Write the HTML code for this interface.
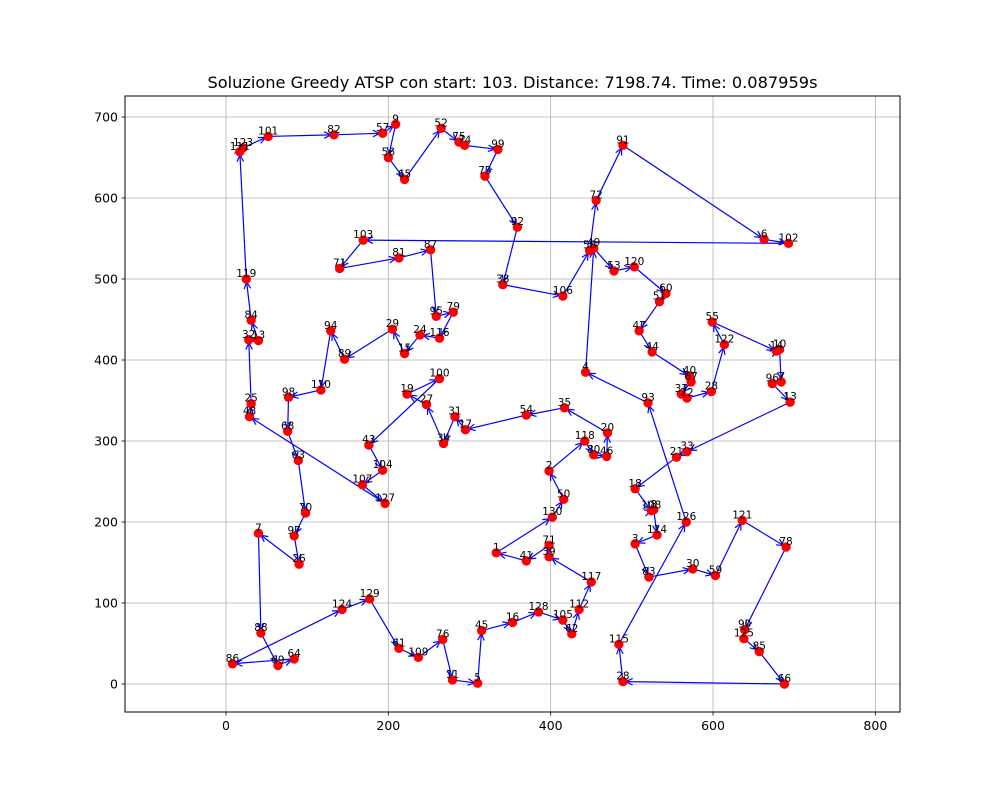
<!DOCTYPE html>
<html><head><meta charset="utf-8"><style>
html,body{margin:0;padding:0;background:#fff;}
svg{display:block;font-family:"DejaVu Sans","Liberation Sans",sans-serif;}
</style></head><body>
<svg id="chart" width="1000" height="800" viewBox="0 0 1000 800" xmlns="http://www.w3.org/2000/svg">
<rect x="0" y="0" width="1000" height="800" fill="#fff"/>
<text x="512.5" y="88" text-anchor="middle" font-size="16.2">Soluzione Greedy ATSP con start: 103. Distance: 7198.74. Time: 0.087959s</text>
<g id="grid"></g><g id="edges"></g><g id="pts"></g><g id="lbls"></g><g id="axes"></g>
</svg>
<script>
const xTicks=[0,200,400,600,800];
const yTicks=[0,100,200,300,400,500,600,700];
const pathALabels=["103","71","81","87","95","79","116","24","15","29","89","94","110","98","68","63","70","97","26","7","88","69","64","86","124","129","61","109","76","11","5","45","16","128","105","62","112","117","39","71","41","1","130","50","2","118","80","46","20","35","54","17","31","34","27","19","100","43","104","107","127","48","25","32","13","84","119","111","123","101","82","57","9","56","65","52","75","74","99","73","92","38","106","58","72","91","6","102"];
const pathAX=[169,140,213,252,259,280,263,239,220,205,146,129,117,77,76,89,98,84,90,40,43,64,84,8,143,177,213,237,267,279,310,315,353,385,415,426,435,450,398,398,370,333,402,416,398,442,453,469,470,417,370,295,282,268,247,223,263,176,193,168,196,29,31,28,40,31,25,17,21,52,133,193,209,200,220,265,287,294,335,319,359,341,415,448,456,489,663,693];
const pathAY=[548,513,526,536,454,459,427,431,408,438,401,436,363,354,312,276,211,183,148,186,63,23,31,25,92,105,44,33,55,5,1,66,76,89,79,62,92,126,157,171,152,162,206,228,263,300,283,281,310,341,332,314,330,297,345,358,377,295,264,246,223,330,346,425,424,449,500,657,662,676,678,680,691,650,623,686,669,665,660,627,564,493,479,535,597,665,549,544];
const pathBLabels=["49","53","120","60","51","47","44","40","67","37","22","28","122","55","14","10","7","96","13","33","21","18","108","8","114","3","83","30","59","121","78","90","125","85","66","28","115","126","93","4"];
const pathBX=[453,478,503,542,534,509,525,571,573,561,568,598,614,599,678,682,684,673,695,568,555,504,524,527,531,504,521,575,603,636,690,639,638,657,688,489,484,567,520,443];
const pathBY=[538,510,515,482,472,436,410,380,373,358,353,361,419,447,411,413,373,371,348,287,280,241,214,215,184,173,132,142,134,202,169,67,56,40,0,3,49,200,347,385];

const L=125,R=900,T=96,B=712;
const X=v=>226+v*0.8117;
const Y=v=>684-v*0.81;
const NS="http://www.w3.org/2000/svg";
function mk(tag,parent,attrs){const e=document.createElementNS(NS,tag);for(const k in attrs)e.setAttribute(k,attrs[k]);parent.appendChild(e);return e;}
const grid=document.getElementById('grid'),axes=document.getElementById('axes');
xTicks.forEach(t=>{
  const g=mk('line',grid,{x1:X(t),x2:X(t),y1:T,y2:B,stroke:'#b0b0b0','stroke-width':0.8});
  
  
  mk('line',axes,{x1:X(t),x2:X(t),y1:B,y2:B+3.5,stroke:'#000','stroke-width':0.8});
  const tx=mk('text',axes,{x:X(t),y:B+18,'text-anchor':'middle','font-size':12.5});
  tx.textContent=t;
  
  
});
yTicks.forEach(t=>{
  const g=mk('line',grid,{x1:L,x2:R,y1:Y(t),y2:Y(t),stroke:'#b0b0b0','stroke-width':0.8});
  
  
  mk('line',axes,{x1:L-3.5,x2:L,y1:Y(t),y2:Y(t),stroke:'#000','stroke-width':0.8});
  const tx=mk('text',axes,{x:L-7,y:Y(t)+4.5,'text-anchor':'end','font-size':12.5});
  tx.textContent=t;
  
  
});
const frame=mk('rect',axes,{x:L,y:T,width:R-L,height:B-T,fill:'none',stroke:'#000','stroke-width':1});



const edges=document.getElementById('edges'),pts=document.getElementById('pts'),lbls=document.getElementById('lbls');
function drawPath(lab,xs,ys){
  const n=xs.length;
  for(let i=0;i<n;i++){
    const j=(i+1)%n;
    const x1=X(xs[i]),y1=Y(ys[i]),x2=X(xs[j]),y2=Y(ys[j]);
    const dx=x2-x1,dy=y2-y1,d=Math.hypot(dx,dy)||1,ux=dx/d,uy=dy/d;
    const tx=x2-ux*3,ty=y2-uy*3;
    const ln=mk('line',edges,{x1:x1,y1:y1,x2:tx,y2:ty,stroke:'#0000ff','stroke-width':1.2});
    
    
    const h=7.5,a=0.45,c=Math.cos(a),s=Math.sin(a);
    const ax=tx-h*(ux*c-uy*s),ay=ty-h*(uy*c+ux*s);
    const bx=tx-h*(ux*c+uy*s),by=ty-h*(uy*c-ux*s);
    const hd=mk('polyline',edges,{points:`${ax},${ay} ${tx},${ty} ${bx},${by}`,fill:'none',stroke:'#0000ff','stroke-width':1.2});
    
    
  }
  for(let i=0;i<n;i++){
    const c=mk('circle',pts,{cx:X(xs[i]),cy:Y(ys[i]),r:4.7,fill:'#ff0000'});
    
    
    const t=mk('text',lbls,{x:X(xs[i]),y:Y(ys[i])-2,'text-anchor':'middle','font-size':10.5,fill:'#000'});
    t.textContent=lab[i];
    
    
  }
}
drawPath(pathALabels,pathAX,pathAY);
drawPath(pathBLabels,pathBX,pathBY);
</script>
</body></html>
